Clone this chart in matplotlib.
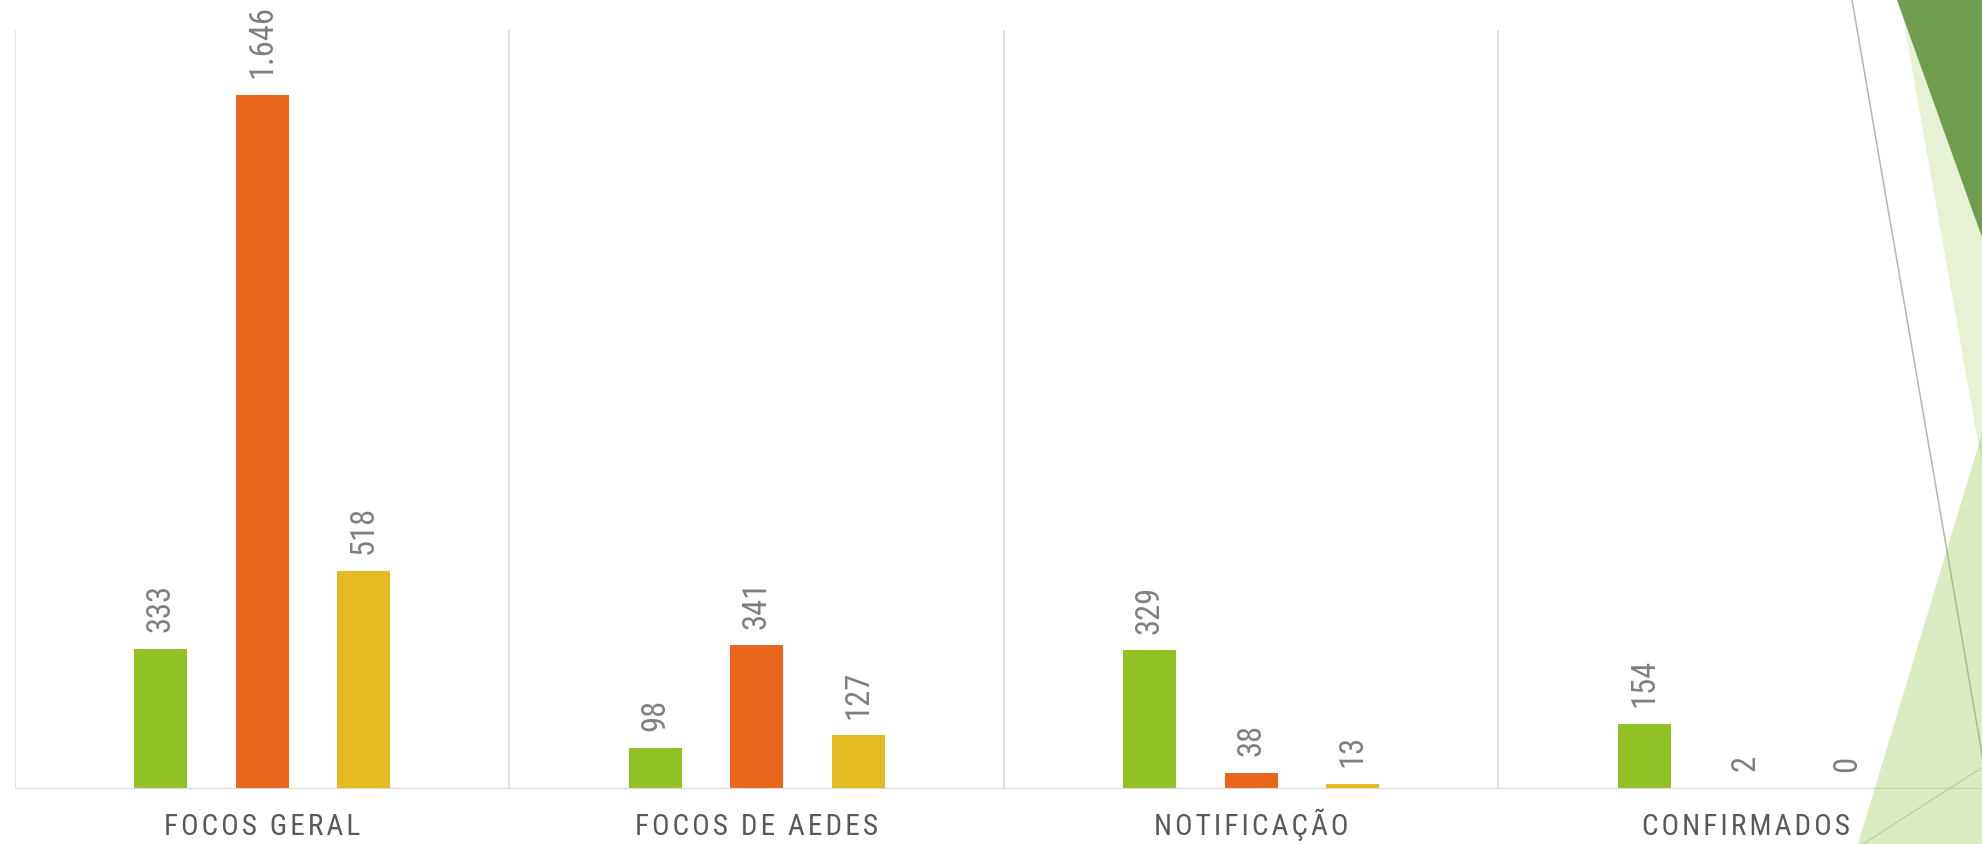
import numpy as np
import matplotlib
matplotlib.use("Agg")
import matplotlib.pyplot as plt
from matplotlib.patches import Polygon
from matplotlib.lines import Line2D

CATEGORIES = ["FOCOS GERAL", "FOCOS DE AEDES", "NOTIFICAÇÃO", "CONFIRMADOS"]
SERIES_A = [333, 98, 329, 154]      # green
SERIES_B = [1646, 341, 38, 2]       # orange
SERIES_C = [518, 127, 13, 0]        # yellow
COLORS = ["#92C126", "#E9661A", "#E5B920"]

W, H = 1983, 844
FONT = ["Roboto Condensed", "DejaVu Sans"]
HAIR = "\u200a"


def spaced(label):
    # Excel-style expanded character spacing
    return (HAIR + " " + HAIR).join(HAIR.join(word) for word in label.split())


def fmt(v):
    return f"{v:,}".replace(",", ".")


fig = plt.figure(figsize=(W / 100, H / 100), dpi=100)
ax = fig.add_axes([15 / W, 55 / H, 1978 / W, 759 / H])

x = np.arange(len(CATEGORIES))
offsets = [-0.205, 0.0, 0.205]
for vals, off, col in zip([SERIES_A, SERIES_B, SERIES_C], offsets, COLORS):
    ax.bar(x + off, vals, width=0.107, color=col, zorder=3)
    for xi, v in zip(x + off, vals):
        ax.annotate(fmt(v), (xi, v), xytext=(0, 12), textcoords="offset points",
                    rotation=90, ha="center", va="bottom", fontsize=23.5,
                    color="#7F7F7F", family=FONT)

ax.set_xlim(-0.5, len(CATEGORIES) - 0.5)
ax.set_ylim(0, 1800)
ax.vlines(np.arange(len(CATEGORIES) + 1) - 0.5, 0, 1800, color="#D9D9D9",
          lw=1.2, zorder=1)
ax.axhline(0, color="#D9D9D9", lw=1.6, zorder=4)
for s in ax.spines.values():
    s.set_visible(False)
ax.set_yticks([])
ax.set_xticks(x, [spaced(c) for c in CATEGORIES])
ax.tick_params(axis="x", length=0, pad=33, labelsize=21, labelcolor="#595959")
for lab in ax.get_xticklabels():
    lab.set_family(FONT)
    lab.set_va("baseline")

# slide decoration on the right edge (pixel coords, y from top)
def px(pts):
    return [(a / W, 1 - b / H) for a, b in pts]

fig.add_artist(Line2D(*zip(*px([(1852, 0), (1983, 760)])), color="#B4B4B4",
                      lw=1.1, transform=fig.transFigure, zorder=5))
fig.add_artist(Polygon(px([(1900, 0), (1983, 0), (1983, 470)]),
                       transform=fig.transFigure, color="#92C13E", alpha=0.22,
                       lw=0, zorder=6))
fig.add_artist(Polygon(px([(1897, 0), (1983, 0), (1983, 240)]),
                       transform=fig.transFigure, color="#709C50", lw=0,
                       zorder=7))
fig.add_artist(Polygon(px([(1858, 844), (1983, 844), (1983, 430)]),
                       transform=fig.transFigure, color="#92C13E", alpha=0.32,
                       lw=0, zorder=6))
fig.add_artist(Line2D(*zip(*px([(1863, 844), (1983, 767)])), color="#B7C9A2",
                      lw=0.8, transform=fig.transFigure, zorder=8))

fig.savefig("out.png", dpi=100)
